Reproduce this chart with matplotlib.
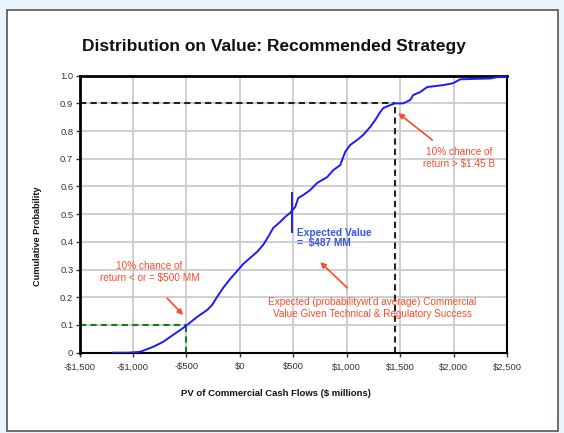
import matplotlib
matplotlib.use('Agg')
import matplotlib.pyplot as plt
from matplotlib.patches import Rectangle

plt.rcParams['font.family'] = ['Liberation Sans', 'DejaVu Sans']

# Cumulative distribution ($ millions, probability)
pv = [-1186, -1046, -934, -812, -718, -625, -531, -494, -400, -306, -260, -213,
      -156, -91, -25, 31, 96, 162, 218, 265, 312, 377, 424, 471, 518, 546, 593,
      658, 724, 817, 874, 939, 986, 1033, 1098, 1154, 1220, 1267, 1314, 1342,
      1388, 1450, 1529, 1594, 1622, 1688, 1753, 1903, 1997, 2062, 2343, 2409, 2500]
cum_prob = [0.0, 0.0, 0.003, 0.021, 0.039, 0.064, 0.089, 0.10, 0.129, 0.154, 0.172,
            0.201, 0.234, 0.266, 0.295, 0.320, 0.342, 0.364, 0.389, 0.418, 0.450,
            0.472, 0.490, 0.505, 0.526, 0.558, 0.569, 0.587, 0.613, 0.634, 0.659,
            0.677, 0.725, 0.750, 0.768, 0.786, 0.815, 0.840, 0.869, 0.883, 0.891,
            0.90, 0.90, 0.912, 0.930, 0.941, 0.959, 0.966, 0.973, 0.987, 0.99,
            0.995, 0.995]

x_ticks = [-1500, -1000, -500, 0, 500, 1000, 1500, 2000, 2500]
x_labels = ['-$1,500', '-$1,000', '-$500', '$0', '$500', '$1,000', '$1,500', '$2,000', '$2,500']
y_ticks = [0, 0.1, 0.2, 0.3, 0.4, 0.5, 0.6, 0.7, 0.8, 0.9, 1.0]
y_labels = ['0', '0.1', '0.2', '0.3', '0.4', '0.5', '0.6', '0.7', '0.8', '0.9', '1.0']

expected_value = 487
p10_value = -500
p90_value = 1450

fig = plt.figure(figsize=(5.64, 4.33), dpi=100)
fig.patch.set_facecolor('#eaf4fd')
fig.patches.append(Rectangle((7 / 564, 0.005), 551 / 564, 1 - 10 / 433 - 0.005,
                             transform=fig.transFigure, facecolor='white',
                             edgecolor='#555555', linewidth=1.2, zorder=-1))

ax = fig.add_axes([0.141, 0.1855, 0.758, 0.6397])
ax.set_zorder(2)
ax.set_facecolor('white')
ax.set_xlim(-1500, 2500)
ax.set_ylim(0, 1.0)
ax.set_xticks(x_ticks)
ax.set_xticklabels(x_labels)
ax.set_yticks(y_ticks)
ax.set_yticklabels(y_labels)
ax.grid(True, color='#cccccc', linewidth=1.3, zorder=0)
ax.set_axisbelow(True)
ax.tick_params(labelsize=6.8, colors='#333333', length=3, width=1)
ax.tick_params(axis='x', pad=4)
ax.tick_params(axis='y', pad=1.5)
for s in ax.spines.values():
    s.set_color('black')
    s.set_linewidth(1.5)
ax.spines['left'].set_linewidth(2)
ax.spines['top'].set_linewidth(2)

red = '#ff4a26'
green = '#1a7a1a'
blue = '#1a1aff'

# reference lines
ax.plot([-1500, p90_value], [0.9, 0.9], ls=(0, (3, 2)), color='#222222', lw=1.5, zorder=2)
ax.plot([p90_value, p90_value], [0, 0.9], ls=(0, (3, 2)), color='#222222', lw=1.5, zorder=2)
ax.plot([-1500, p10_value], [0.1, 0.1], ls=(0, (3, 2)), color=green, lw=1.5, zorder=2)
ax.plot([p10_value, p10_value], [0, 0.1], ls=(0, (3, 2)), color=green, lw=1.5, zorder=2)

ax.plot(pv, cum_prob, color=blue, lw=1.4, zorder=3)
ax.plot([expected_value, expected_value], [0.435, 0.577], color=blue, lw=1.4, zorder=3)

ax.text(537, 0.414, 'Expected Value\n=  $487 MM', color='#3355ee',
        fontsize=7.3, fontweight='bold', va='center', ha='left', linespacing=1.05)

ax.text(2053, 0.703, '10% chance of\nreturn > $1.45 B', color=red, fontsize=7.2,
        ha='center', va='center', linespacing=1.25)
ax.text(-845, 0.291, '10% chance of\nreturn < or = $500 MM', color=red, fontsize=7.2,
        ha='center', va='center', linespacing=1.25)
ax.text(1239, 0.163, "Expected (probabilitywt'd average) Commercial\nValue Given Technical & Regulatory Success",
        color=red, fontsize=7.2, ha='center', va='center', linespacing=1.25)

arrow = dict(arrowstyle='-|>', color=red, lw=1.2, shrinkA=0, shrinkB=0, mutation_scale=8)
ax.annotate('', xy=(1482, 0.865), xytext=(1800, 0.768), arrowprops=arrow)
ax.annotate('', xy=(-531, 0.136), xytext=(-681, 0.197), arrowprops=arrow)
ax.annotate('', xy=(752, 0.327), xytext=(1005, 0.234), arrowprops=arrow)

fig.text(273.5 / 564, 1 - 47 / 433, 'Distribution on Value: Recommended Strategy',
         fontsize=12.5, fontweight='bold', ha='center', va='center', color='#111111')
fig.text(276 / 564, 1 - 393 / 433, 'PV of Commercial Cash Flows ($ millions)',
         fontsize=6.8, fontweight='bold', ha='center', va='center', color='#111111')
fig.text(37 / 564, 1 - 236 / 433, 'Cumulative Probability', rotation=90,
         fontsize=6.6, fontweight='bold', ha='center', va='center', color='#111111')

fig.savefig('out.png', dpi=100, facecolor=fig.get_facecolor())
